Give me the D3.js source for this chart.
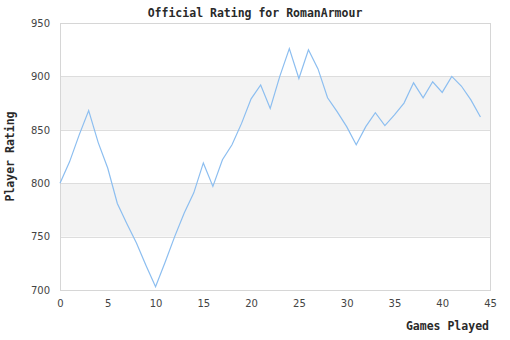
<!DOCTYPE html>
<html><head><meta charset="utf-8">
<script src="https://cdn.jsdelivr.net/npm/d3@7"></script>
<style>body{margin:0;background:#fff}svg{display:block}</style>
</head><body>
<script>
const games = d3.range(0, 45);
const ratings = [800,820,845,868,838,814,781,762,744,723,703,726,750,772,791,819,797,822,836,856,879,892,870,900,926,898,925,907,880,867,853,836,853,866,854,864,875,894,880,895,885,900,891,878,862];
const yTicks = [700,750,800,850,900,950];
const xTicks = [0,5,10,15,20,25,30,35,40,45];
const bands = [[750,800],[850,900]];
const title = "Official Rating for RomanArmour";
const xLabel = "Games Played";
const yLabel = "Player Rating";

const W = 510, H = 340;
const m = {l:60, r:20, t:23, b:50};
const svg = d3.select("body").append("svg").attr("width", W).attr("height", H);
const x = d3.scaleLinear().domain([0,45]).range([m.l, W - m.r]);
const y = d3.scaleLinear().domain([700,950]).range([H - m.b, m.t]);

svg.selectAll("rect.band").data(bands).join("rect")
  .attr("x", x(0)).attr("width", x(45)-x(0))
  .attr("y", d => y(d[1])).attr("height", d => y(d[0]) - y(d[1]))
  .attr("fill", "#f3f3f3");

svg.selectAll("line.grid").data(yTicks).join("line")
  .attr("x1", x(0)).attr("x2", x(45))
  .attr("y1", d => Math.round(y(d))+0.5).attr("y2", d => Math.round(y(d))+0.5)
  .attr("stroke", "#dddddd");

svg.append("rect").attr("x", x(0)+0.5).attr("y", y(950)+0.5)
  .attr("width", x(45)-x(0)).attr("height", y(700)-y(950))
  .attr("fill", "none").attr("stroke", "#d6d6d6");

const yAxis = svg.append("g").attr("transform", `translate(${x(0)-8},0)`)
  .call(d3.axisLeft(y).tickValues(yTicks).tickSize(0).tickPadding(2));
const xAxis = svg.append("g").attr("transform", `translate(0,${y(700)+8})`)
  .call(d3.axisBottom(x).tickValues(xTicks).tickSize(0).tickPadding(2));
[yAxis, xAxis].forEach(a => {
  a.select(".domain").remove();
  a.selectAll("text").attr("font-family", "DejaVu Sans, sans-serif").attr("font-size", 10).attr("fill", "#444");
});

svg.append("path").datum(games)
  .attr("d", d3.line().x(i => x(i)).y(i => y(ratings[i])))
  .attr("fill", "none").attr("stroke", "#8cbef0").attr("stroke-width", 1.2);

const lab = {"font-family":"DejaVu Sans Mono, monospace","font-weight":"bold","font-size":11.5,"fill":"#2a2a2a"};
function style(sel){ for (const k in lab) sel.attr(k, lab[k]); return sel; }
style(svg.append("text").attr("x", 255).attr("y", 17).attr("text-anchor", "middle")).text(title);
style(svg.append("text").attr("x", 489).attr("y", 330).attr("text-anchor", "end")).text(xLabel);
style(svg.append("text").attr("transform", `translate(14,${(y(700)+y(950))/2}) rotate(-90)`).attr("text-anchor", "middle")).text(yLabel);
</script>
</body></html>
